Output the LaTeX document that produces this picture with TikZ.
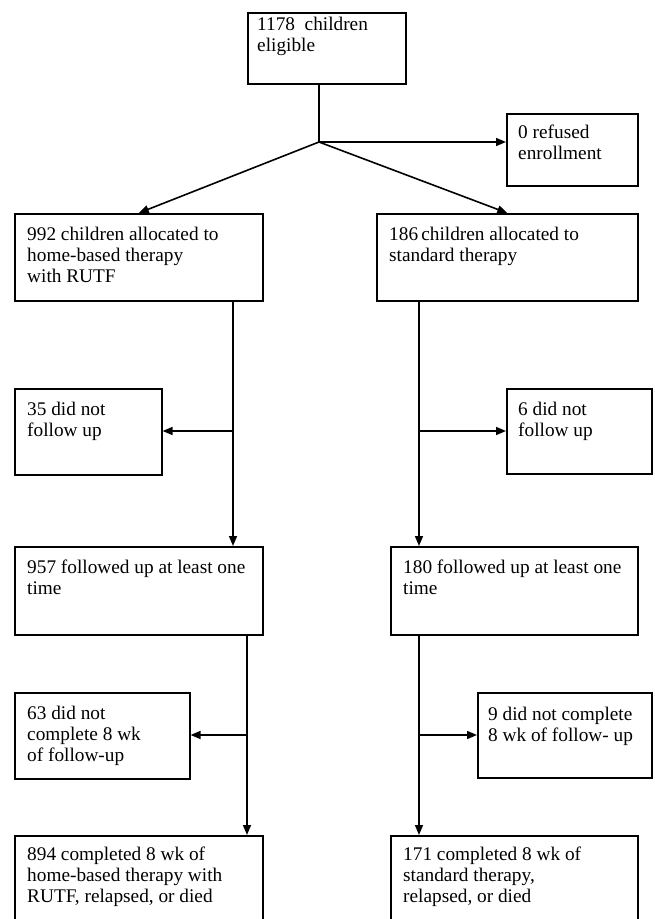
\documentclass[tikz,border=0pt]{standalone}
\usepackage{fontspec}
\setmainfont{Liberation Serif}
\usepackage{tikz}
\usetikzlibrary{arrows.meta,calc,positioning}

\newcommand{\boxfont}{\fontsize{19.3}{21}\selectfont}

\tikzset{
  box/.style={draw, line width=1.6pt, anchor=north west, inner sep=0pt},
  boxtext/.style={anchor=north west, align=left, inner sep=0pt,
    xshift=13pt, yshift=-14pt, font=\boxfont},
  flow/.style={line width=1.6pt}
}

\begin{document}
\begin{tikzpicture}[
  x=1pt, y=-1pt,
  >={Triangle[length=10pt,width=8pt]}
]
  \useasboundingbox (0,0) rectangle (655,919);

  % Eligible and enrollment split
  \node[box, minimum width=158pt, minimum height=71pt,
    label={[boxtext, xshift=-3pt, yshift=9pt]north west:{1178 \ children\\eligible}}]
    (eligible) at (247,12) {};
  \node[box, minimum width=131pt, minimum height=72pt,
    label={[boxtext, xshift=-1pt, yshift=2pt]north west:{0 refused\\enrollment}}]
    (refused) at (506,113) {};
  \coordinate (split) at (319,142);

  % Allocation
  \node[box, minimum width=248pt, minimum height=87pt,
    label={[boxtext]north west:{992 children allocated to\\home-based therapy\\with RUTF}}]
    (home) at (14,213) {};
  \node[box, minimum width=261pt, minimum height=87pt,
    label={[boxtext]north west:{186\,children allocated to\\standard therapy}}]
    (std) at (376,213) {};

  % First follow-up
  \node[box, minimum width=147pt, minimum height=86pt,
    label={[boxtext]north west:{35 did not\\follow up}}]
    (lostA) at (14,388) {};
  \node[box, minimum width=145pt, minimum height=85pt,
    label={[boxtext, xshift=-1pt]north west:{6 did not\\follow up}}]
    (lostB) at (506,388) {};
  \node[box, minimum width=248pt, minimum height=88pt,
    label={[boxtext]north west:{957 followed up at least one\\time}}]
    (fuA) at (14,546) {};
  \node[box, minimum width=247pt, minimum height=88pt,
    label={[boxtext]north west:{180 followed up at least one\\time}}]
    (fuB) at (390,546) {};

  % Eight weeks
  \node[box, minimum width=175pt, minimum height=86pt,
    label={[boxtext]north west:{63 did not\\complete 8 wk\\of follow-up}}]
    (lostC) at (14,692) {};
  \node[box, minimum width=174pt, minimum height=85pt,
    label={[boxtext, xshift=-2pt, yshift=-1pt]north west:{9 did not complete\\8 wk of follow- up}}]
    (lostD) at (477,692) {};
  \node[box, minimum width=248pt, minimum height=100pt,
    label={[boxtext, yshift=2pt]north west:{894 completed 8 wk of\\home-based therapy with\\RUTF, relapsed, or died}}]
    (doneA) at (14,835) {};
  \node[box, minimum width=247pt, minimum height=100pt,
    label={[boxtext, yshift=2pt]north west:{171 completed 8 wk of\\standard therapy,\\relapsed, or died}}]
    (doneB) at (390,835) {};

  % Branch points
  \coordinate (brA) at (233,431);
  \coordinate (brC) at (247,735);
  \coordinate (brB) at (419,431);
  \coordinate (brD) at (419,735);

  % Connectors
  \draw[flow] (eligible.south -| split) -- (split);
  \draw[flow, ->] (split) -- (split -| refused.west);
  \draw[flow, ->] (split) -- (home.north);
  \draw[flow, ->] (split) -- (std.north);

  \draw[flow, ->] (home.south -| brA) -- (fuA.north -| brA);
  \draw[flow, ->] (brA) -- (lostA.east |- brA);
  \draw[flow, ->] (std.south -| brB) -- (fuB.north -| brB);
  \draw[flow, ->] (brB) -- (lostB.west |- brB);

  \draw[flow, ->] (fuA.south -| brC) -- (doneA.north -| brC);
  \draw[flow, ->] (brC) -- (lostC.east |- brC);
  \draw[flow, ->] (fuB.south -| brD) -- (doneB.north -| brD);
  \draw[flow, ->] (brD) -- (lostD.west |- brD);
\end{tikzpicture}
\end{document}
